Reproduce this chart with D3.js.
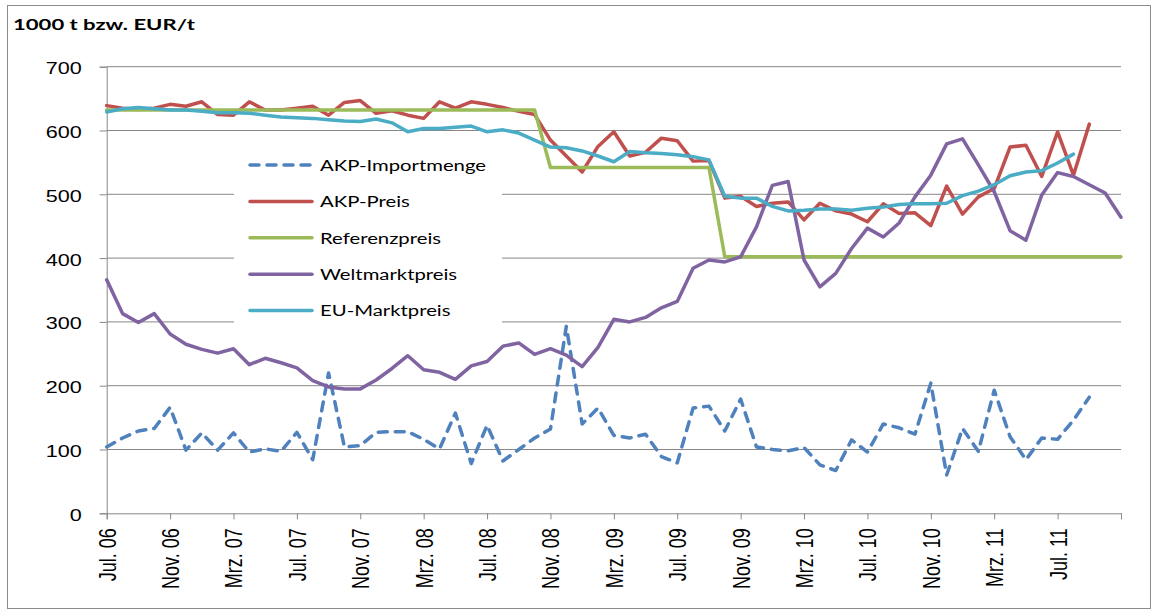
<!DOCTYPE html>
<html>
<head>
<meta charset="utf-8">
<script src="https://cdn.jsdelivr.net/npm/d3@7"></script>
<style>
  body { margin: 0; background: #fff; }
</style>
</head>
<body>
<svg id="chart" width="1158" height="613"></svg>
<script>
// months Jul. 06 .. Nov. 11
const categories = [
  'Jul. 06','Aug. 06','Sep. 06','Okt. 06','Nov. 06','Dez. 06',
  'Jan. 07','Feb. 07','Mrz. 07','Apr. 07','Mai 07','Jun. 07','Jul. 07','Aug. 07','Sep. 07','Okt. 07','Nov. 07','Dez. 07',
  'Jan. 08','Feb. 08','Mrz. 08','Apr. 08','Mai 08','Jun. 08','Jul. 08','Aug. 08','Sep. 08','Okt. 08','Nov. 08','Dez. 08',
  'Jan. 09','Feb. 09','Mrz. 09','Apr. 09','Mai 09','Jun. 09','Jul. 09','Aug. 09','Sep. 09','Okt. 09','Nov. 09','Dez. 09',
  'Jan. 10','Feb. 10','Mrz. 10','Apr. 10','Mai 10','Jun. 10','Jul. 10','Aug. 10','Sep. 10','Okt. 10','Nov. 10','Dez. 10',
  'Jan. 11','Feb. 11','Mrz. 11','Apr. 11','Mai 11','Jun. 11','Jul. 11','Aug. 11','Sep. 11','Okt. 11','Nov. 11'
];
const yTicks = [0, 100, 200, 300, 400, 500, 600, 700];

const importmenge = [104,118,129,133,166,99,126,99,126,96,101,97,127,84,220,104,106,127,128,128,
  116,101,157,78,138,82,100,118,132,293,140,165,122,118,124,89,79,165,168,129,
  179,104,100,98,103,76,67,115,96,140,134,124,204,60,133,97,193,120,84,118,116,146,182];

const akpPreis = [639,635,633,635,641,638,645,625,624,645,632,632,635,638,624,644,647,627,631,624,
  619,645,635,645,641,636,630,625,585,560,535,575,598,560,566,588,584,552,553,494,
  497,481,486,488,460,486,474,469,457,485,470,471,451,513,469,496,509,574,577,528,598,530,610];

const referenzpreis = [632,632,632,632,632,632,632,632,632,632,632,632,632,632,632,632,632,632,632,632,
  632,632,632,632,632,632,632,632,542,542,542,542,542,542,542,542,542,542,542,402,
  402,402,402,402,402,402,402,402,402,402,402,402,402,402,402,402,402,402,402,402,402,402,402,402,402];

const weltmarkt = [366,313,299,313,281,265,257,251,258,233,243,236,228,208,198,195,195,209,227,247,
  225,221,210,231,238,262,267,249,258,248,230,260,304,300,307,322,332,384,397,394,
  402,449,514,520,397,355,376,415,447,433,455,496,530,579,587,546,504,443,428,499,534,528,515,502,464];

const euMarkt = [629,634,636,634,632,632,630,628,628,627,624,621,620,619,617,615,614,618,612,598,
  603,603,605,607,598,601,596,585,574,573,568,560,551,567,565,564,562,559,554,497,
  494,494,481,474,475,477,477,475,478,480,484,485,485,486,498,505,515,529,535,537,549,563];

const seriesNames = ['AKP-Importmenge','AKP-Preis','Referenzpreis','Weltmarktpreis','EU-Marktpreis'];
const seriesValues = [importmenge, akpPreis, referenzpreis, weltmarkt, euMarkt];
const seriesColors = ['#4F81BD','#C0504D','#9BBB59','#8064A2','#4BACC6'];

const svg = d3.select('#chart');
const gridColor = '#878787';
const plot = {left: 106.7, right: 1121, top: 66.7, bottom: 513.3};

// outer frame
svg.append('rect')
  .attr('x', 7.5).attr('y', 5.5)
  .attr('width', 1143).attr('height', 603)
  .attr('fill', 'none').attr('stroke', '#8c8c8c');

const x = d3.scalePoint().domain(categories).range([plot.left, plot.right]);
const y = d3.scaleLinear().domain([0, 700]).range([plot.bottom, plot.top]);

// title
svg.append('text')
  .attr('transform', 'translate(13,30) scale(1.38,1)')
  .attr('font-family', 'Lato, "Open Sans", sans-serif')
  .attr('font-weight', 'bold')
  .attr('font-size', 16)
  .attr('fill', '#000')
  .text('1000 t bzw. EUR/t');

// gridlines
svg.append('g')
  .selectAll('line')
  .data(yTicks.filter(d => d > 0))
  .join('line')
  .attr('x1', plot.left).attr('x2', plot.right)
  .attr('y1', d => y(d)).attr('y2', d => y(d))
  .attr('stroke', gridColor).attr('stroke-width', 1);

// y axis
const yAxis = svg.append('g')
  .attr('transform', `translate(${plot.left},0)`)
  .call(d3.axisLeft(y).tickValues(yTicks).tickSize(7).tickFormat(d3.format('d')));
yAxis.select('.domain').attr('stroke', gridColor);
yAxis.selectAll('.tick line').attr('stroke', gridColor);
yAxis.selectAll('.tick text')
  .attr('x', null).attr('dy', null)
  .attr('text-anchor', 'end')
  .attr('font-family', '"Liberation Sans", Arial, sans-serif')
  .attr('font-size', 16)
  .attr('fill', '#000')
  .attr('transform', 'translate(-25,7) scale(1.35,1)');

// x axis
const tickCats = categories.filter((d, i) => i % 4 === 0);
const xAxis = svg.append('g')
  .attr('transform', `translate(0,${plot.bottom})`)
  .call(d3.axisBottom(x).tickValues(tickCats).tickSize(6)
    .tickFormat(d => d === categories[categories.length - 1] ? '' : d));
xAxis.select('.domain').attr('stroke', gridColor);
xAxis.selectAll('.tick line').attr('stroke', gridColor);
xAxis.selectAll('.tick text')
  .attr('x', null).attr('y', null).attr('dy', null)
  .attr('text-anchor', 'end')
  .attr('font-family', '"Liberation Sans", Arial, sans-serif')
  .attr('font-size', 18)
  .attr('fill', '#000')
  .attr('transform', 'translate(8.5,15) scale(1.3,1) rotate(-90)');

// series lines
const line = d3.line()
  .x((d, i) => x(categories[i]))
  .y(d => y(d));

svg.append('g')
  .selectAll('path')
  .data(seriesValues)
  .join('path')
  .attr('d', d => line(d))
  .attr('fill', 'none')
  .attr('stroke', (d, i) => seriesColors[i])
  .attr('stroke-width', 3.5)
  .attr('stroke-linejoin', 'round')
  .attr('stroke-linecap', 'round')
  .attr('stroke-dasharray', (d, i) => i === 0 ? '9,8' : null);

// legend
const legend = svg.append('g');
legend.append('rect')
  .attr('x', 234).attr('y', 140)
  .attr('width', 268).attr('height', 196)
  .attr('fill', '#fff');

const rows = legend.selectAll('g.item')
  .data(seriesNames)
  .join('g')
  .attr('class', 'item')
  .attr('transform', (d, i) => `translate(0,${165 + i * 36.4})`);

rows.append('line')
  .attr('x1', 250).attr('x2', 312)
  .attr('y1', 0).attr('y2', 0)
  .attr('stroke', (d, i) => seriesColors[i])
  .attr('stroke-width', 3.5)
  .attr('stroke-linecap', 'round')
  .attr('stroke-dasharray', (d, i) => i === 0 ? '9,8' : null);

rows.append('text')
  .attr('transform', 'translate(320,5.7) scale(1.27,1)')
  .attr('font-family', 'Lato, "Open Sans", sans-serif')
  .attr('font-size', 16)
  .attr('fill', '#000')
  .text(d => d);
</script>
</body>
</html>
